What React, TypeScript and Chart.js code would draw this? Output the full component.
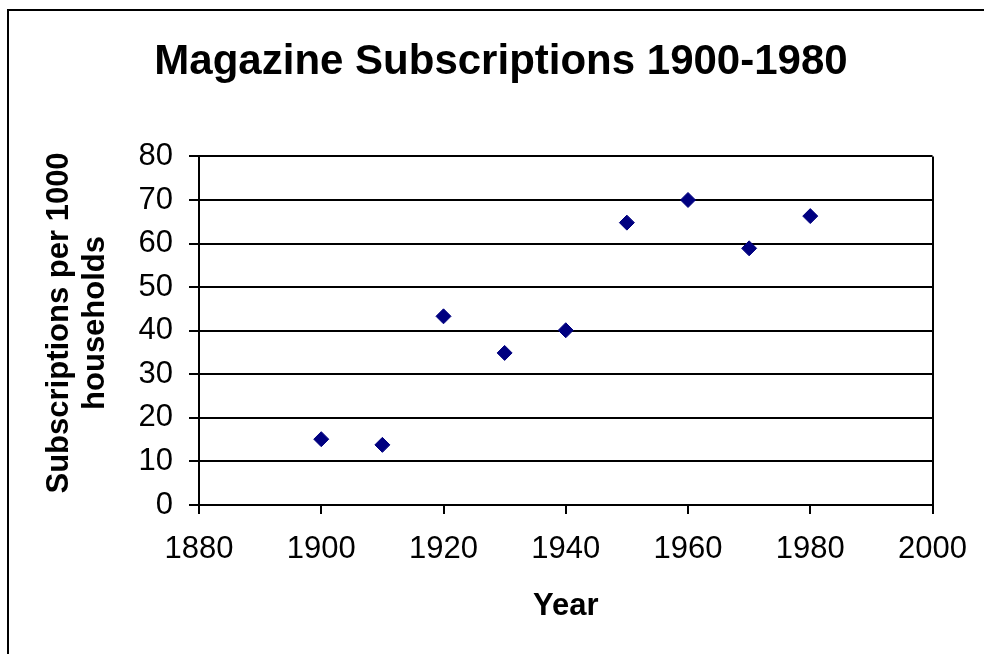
import React, { useEffect, useRef } from "react";
import { Chart, registerables } from "chart.js";

Chart.register(...registerables);

const years = [1900, 1910, 1920, 1930, 1940, 1950, 1960, 1970, 1980];
const subscriptions = [15.1, 13.8, 43.3, 34.9, 40.1, 64.8, 70, 58.9, 66.3];
const xTicks = [1880, 1900, 1920, 1940, 1960, 1980, 2000];
const yTicks = [0, 10, 20, 30, 40, 50, 60, 70, 80];

const FONT = "'Liberation Sans', Arial, Helvetica, sans-serif";

const framePlugin = {
  id: "frame",
  afterDraw(chart: any) {
    const ctx = chart.ctx;
    const a = chart.chartArea;
    ctx.save();
    ctx.strokeStyle = "#000";
    ctx.lineWidth = 2;
    // outer chart border (left & top visible)
    ctx.beginPath();
    ctx.moveTo(8, chart.height + 5);
    ctx.lineTo(8, 10);
    ctx.lineTo(chart.width + 5, 10);
    ctx.stroke();
    // plot area right border
    ctx.beginPath();
    ctx.moveTo(Math.round(a.right), a.top);
    ctx.lineTo(Math.round(a.right), a.bottom);
    ctx.stroke();
    ctx.restore();
  },
};

export default function App() {
  const ref = useRef<HTMLCanvasElement | null>(null);

  useEffect(() => {
    if (!ref.current) return;
    const chart = new Chart(ref.current, {
      type: "scatter",
      data: {
        datasets: [
          {
            label: "Subscriptions",
            data: years.map((y, i) => ({ x: y, y: subscriptions[i] })),
            pointStyle: "rectRot",
            pointRadius: 7.5,
            pointHoverRadius: 7.5,
            backgroundColor: "#000080",
            borderColor: "#000080",
            borderWidth: 1,
          },
        ],
      },
      options: {
        responsive: false,
        animation: false,
        devicePixelRatio: 1,
        color: "#000",
        layout: { padding: { left: 18, right: 0, top: 0, bottom: 0 } },
        plugins: {
          legend: { display: false },
          tooltip: { enabled: false },
          title: {
            display: true,
            text: "Magazine Subscriptions 1900-1980",
            color: "#000",
            font: { family: FONT, size: 42, weight: "bold", lineHeight: 1.2 },
            padding: { top: 37, bottom: 69 },
          },
        },
        scales: {
          x: {
            type: "linear",
            min: 1880,
            max: 2000,
            afterFit: (s: any) => {
              s.height = 149;
            },
            afterBuildTicks: (s: any) => {
              s.ticks = xTicks.map((v) => ({ value: v }));
            },
            ticks: {
              color: "#000",
              font: { family: FONT, size: 31, lineHeight: 1.2 },
              padding: 17,
              maxRotation: 0,
              autoSkip: false,
              callback: (v: any) => String(v),
            },
            grid: {
              display: true,
              drawOnChartArea: false,
              drawTicks: true,
              tickLength: 9,
              color: "#000",
              lineWidth: 2,
            },
            border: { display: true, color: "#000", width: 2 },
            title: {
              display: true,
              text: "Year",
              color: "#000",
              font: { family: FONT, size: 31, weight: "bold", lineHeight: 1.15 },
              padding: { top: 0, bottom: 30 },
            },
          },
          y: {
            type: "linear",
            min: 0,
            max: 80,
            afterFit: (s: any) => {
              s.width = 181;
            },
            afterBuildTicks: (s: any) => {
              s.ticks = yTicks.map((v) => ({ value: v }));
            },
            ticks: {
              color: "#000",
              font: { family: FONT, size: 31, lineHeight: 1.2 },
              padding: 16,
              autoSkip: false,
              callback: (v: any) => String(v),
            },
            grid: {
              display: true,
              drawOnChartArea: true,
              drawTicks: true,
              tickLength: 10,
              color: "#000",
              lineWidth: 2,
            },
            border: { display: true, color: "#000", width: 2 },
            title: {
              display: true,
              text: ["\u2002Subscriptions per 1000", "\u2002households"],
              color: "#000",
              font: { family: FONT, size: 31, weight: "bold", lineHeight: 1.15 },
              padding: { top: 24, bottom: 0 },
            },
          },
          yRight: {
            type: "linear",
            position: "right",
            display: true,
            afterFit: (s: any) => {
              s.width = 51.3;
            },
            grid: { display: false },
            ticks: { display: false },
            border: { display: false },
          },
        },
      },
      plugins: [framePlugin],
    } as any);
    return () => chart.destroy();
  }, []);

  return (
    <div style={{ position: "absolute", left: 0, top: 0, width: 984, height: 654, overflow: "hidden", background: "#fff" }}>
      <canvas ref={ref} width={984} height={654} style={{ display: "block", width: 984, height: 654 }} />
    </div>
  );
}
